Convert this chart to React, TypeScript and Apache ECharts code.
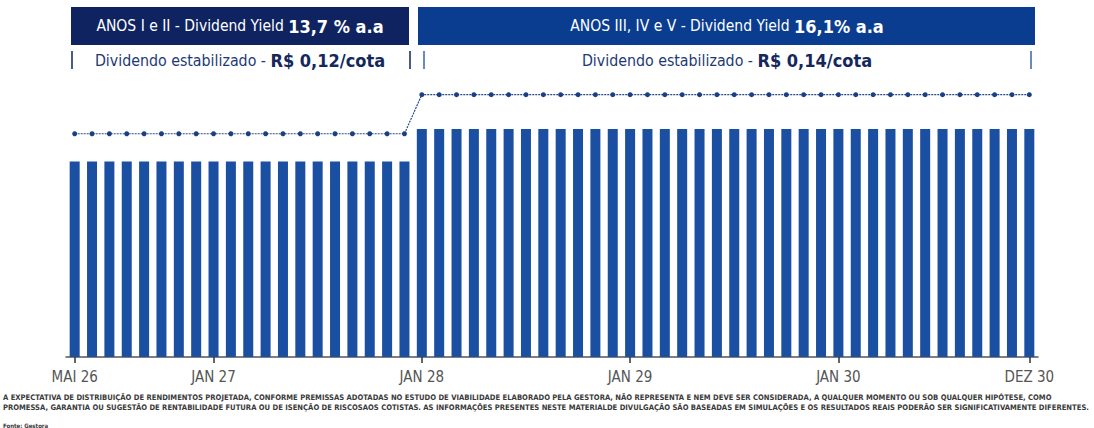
import React, { useEffect, useRef } from "react";
import * as echarts from "echarts";

const months = ["JAN", "FEV", "MAR", "ABR", "MAI", "JUN", "JUL", "AGO", "SET", "OUT", "NOV", "DEZ"];
const categories: string[] = [];
for (let y = 26; y <= 30; y++) {
  for (let m = 0; m < 12; m++) {
    if (y === 26 && m < 4) continue;
    categories.push(`${months[m]} ${y}`);
  }
}
const shownTicks = ["MAI 26", "JAN 27", "JAN 28", "JAN 29", "JAN 30", "DEZ 30"];

// monthly dividend per quota (R$)
const dividends = [
  0.12, 0.12, 0.12, 0.12, 0.12, 0.12, 0.12, 0.12, 0.12, 0.12,
  0.12, 0.12, 0.12, 0.12, 0.12, 0.12, 0.12, 0.12, 0.12, 0.12,
  0.14, 0.14, 0.14, 0.14, 0.14, 0.14, 0.14, 0.14, 0.14, 0.14, 0.14, 0.14,
  0.14, 0.14, 0.14, 0.14, 0.14, 0.14, 0.14, 0.14, 0.14, 0.14, 0.14, 0.14,
  0.14, 0.14, 0.14, 0.14, 0.14, 0.14, 0.14, 0.14, 0.14, 0.14, 0.14, 0.14,
];
// dividend yield (% a.a)
const yields = [
  13.7, 13.7, 13.7, 13.7, 13.7, 13.7, 13.7, 13.7, 13.7, 13.7,
  13.7, 13.7, 13.7, 13.7, 13.7, 13.7, 13.7, 13.7, 13.7, 13.7,
  16.1, 16.1, 16.1, 16.1, 16.1, 16.1, 16.1, 16.1, 16.1, 16.1, 16.1, 16.1,
  16.1, 16.1, 16.1, 16.1, 16.1, 16.1, 16.1, 16.1, 16.1, 16.1, 16.1, 16.1,
  16.1, 16.1, 16.1, 16.1, 16.1, 16.1, 16.1, 16.1, 16.1, 16.1, 16.1, 16.1,
];

const header1 = "ANOS I e II - Dividend Yield ";
const header1Bold = "13,7 % a.a";
const header2 = "ANOS III, IV e V - Dividend Yield ";
const header2Bold = "16,1% a.a";
const sub1 = "Dividendo estabilizado - ";
const sub1Bold = "R$ 0,12/cota";
const sub2 = "Dividendo estabilizado - ";
const sub2Bold = "R$ 0,14/cota";
const note1 =
  "A EXPECTATIVA DE DISTRIBUIÇÃO DE RENDIMENTOS PROJETADA, CONFORME PREMISSAS ADOTADAS NO ESTUDO DE VIABILIDADE ELABORADO PELA GESTORA, NÃO REPRESENTA E NEM DEVE SER CONSIDERADA, A QUALQUER MOMENTO OU SOB QUALQUER HIPÓTESE, COMO";
const note2 =
  "PROMESSA, GARANTIA OU SUGESTÃO DE RENTABILIDADE FUTURA OU DE ISENÇÃO DE RISCOSAOS COTISTAS. AS INFORMAÇÕES PRESENTES NESTE MATERIALDE DIVULGAÇÃO SÃO BASEADAS EM SIMULAÇÕES E OS RESULTADOS REAIS PODERÃO SER SIGNIFICATIVAMENTE DIFERENTES.";
const source = "Fonte: Gestora";

const FONT = "'Liberation Sans Narrow', 'DejaVu Sans Condensed', 'Roboto', sans-serif";

export default function App() {
  const ref = useRef<HTMLDivElement>(null);
  useEffect(() => {
    if (!ref.current) return;
    const chart = echarts.init(ref.current, undefined, { renderer: "svg" });
    const tickFn = (_i: number, v: string) => shownTicks.includes(v);
    const sep = (x: number, color: string) => ({
      type: "line",
      shape: { x1: x, y1: 51, x2: x, y2: 69 },
      style: { stroke: color, lineWidth: 1.5 },
    });
    const headRich = {
      a: { fill: "#fff", fontSize: 15.5, fontFamily: FONT },
      b: { fill: "#fff", fontSize: 18, fontWeight: "bold", fontFamily: FONT },
    };
    const subRich = {
      a: { fill: "#1d3a74", fontSize: 15.8, fontFamily: FONT },
      b: { fill: "#14285c", fontSize: 18, fontWeight: "bold", fontFamily: FONT },
    };
    chart.setOption({
      animation: false,
      grid: { left: 66, right: 56, top: 80, bottom: 71 },
      xAxis: [
        {
          type: "category",
          data: categories,
          axisLine: { lineStyle: { color: "#555", width: 1.5 } },
          axisTick: { show: false },
          axisLabel: { show: false },
        },
        {
          type: "category",
          data: categories,
          position: "bottom",
          offset: 5,
          axisLine: { show: false },
          axisTick: {
            show: true,
            alignWithLabel: true,
            interval: tickFn,
            length: 6,
            lineStyle: { color: "#333", width: 1.5 },
          },
          axisLabel: {
            interval: tickFn,
            color: "#555",
            fontSize: 15,
            fontFamily: FONT,
            margin: 7,
          },
        },
      ],
      yAxis: [
        { type: "value", min: 0, max: 0.17, show: false, splitLine: { show: false } },
        { type: "value", min: 0, max: 17, show: false, splitLine: { show: false } },
      ],
      series: [
        {
          type: "bar",
          data: dividends,
          xAxisIndex: 0,
          yAxisIndex: 0,
          barWidth: 10,
          itemStyle: { color: "#1a4fa1" },
        },
        {
          type: "line",
          data: yields,
          xAxisIndex: 0,
          yAxisIndex: 1,
          symbol: "circle",
          symbolSize: 5,
          lineStyle: { color: "#2a4a88", width: 1.2, type: [2, 1] },
          itemStyle: { color: "#1a3f82" },
        },
      ],
      graphic: [
        { type: "rect", shape: { x: 71, y: 7, width: 338, height: 38 }, style: { fill: "#0f2360" } },
        { type: "rect", shape: { x: 418, y: 7, width: 617, height: 38 }, style: { fill: "#0a3d8f" } },
        {
          type: "text",
          x: 240,
          y: 26,
          style: {
            text: `{a|${header1}}{b|${header1Bold}}`,
            align: "center",
            verticalAlign: "middle",
            rich: headRich,
          },
        },
        {
          type: "text",
          x: 727,
          y: 26,
          style: {
            text: `{a|${header2}}{b|${header2Bold}}`,
            align: "center",
            verticalAlign: "middle",
            rich: headRich,
          },
        },
        sep(72, "#0f2360"),
        sep(410, "#0f2360"),
        sep(424, "#3a62aa"),
        sep(1031, "#3a62aa"),
        {
          type: "text",
          x: 240,
          y: 60,
          style: {
            text: `{a|${sub1}}{b|${sub1Bold}}`,
            align: "center",
            verticalAlign: "middle",
            rich: subRich,
          },
        },
        {
          type: "text",
          x: 727,
          y: 60,
          style: {
            text: `{a|${sub2}}{b|${sub2Bold}}`,
            align: "center",
            verticalAlign: "middle",
            rich: subRich,
          },
        },
        {
          type: "text",
          x: 3,
          y: 397,
          style: { text: note1, fill: "#3a3a3a", fontSize: 7.6, fontFamily: FONT, fontWeight: "bold", verticalAlign: "middle" },
        },
        {
          type: "text",
          x: 3,
          y: 407,
          style: { text: note2, fill: "#3a3a3a", fontSize: 7.6, fontFamily: FONT, fontWeight: "bold", verticalAlign: "middle" },
        },
        {
          type: "text",
          x: 3,
          y: 425,
          style: { text: source, fill: "#3a3a3a", fontSize: 6, fontFamily: FONT, fontWeight: "bold", verticalAlign: "middle" },
        },
      ],
    });
    return () => chart.dispose();
  }, []);
  return (
    <div
      ref={ref}
      style={{ position: "fixed", left: 0, top: 0, width: 1094, height: 428, background: "#fff" }}
    />
  );
}
